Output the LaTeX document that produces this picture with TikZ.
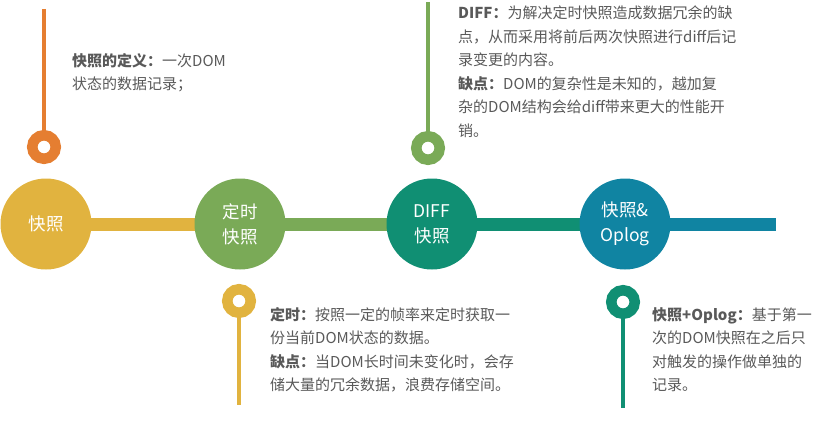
\documentclass[tikz,border=0pt]{standalone}
\usepackage{fontspec}
\setmainfont{Noto Sans CJK SC}
\usetikzlibrary{backgrounds}
\definecolor{snapyellow}{HTML}{E1B33F}
\definecolor{snapgreen}{HTML}{7AAA57}
\definecolor{snapteal}{HTML}{108F73}
\definecolor{snapblue}{HTML}{1084A2}
\definecolor{snaporange}{HTML}{E57E31}
\definecolor{notegray}{HTML}{595959}
\begin{document}
\begin{tikzpicture}[x=1pt, y=-1pt,
    stage/.style={circle, fill=#1, minimum size=91pt, inner sep=0pt, text=white,
        align=center, font=\fontsize{17.5}{25}\selectfont},
    bar/.style={draw=#1, line width=13pt},
    ring/.style={circle, draw=#1, line width=10.5pt, fill=white, minimum size=23.5pt, inner sep=0pt},
    note/.style={anchor=north west, inner sep=0pt, align=left, text=notegray,
        font=\fontsize{15}{23.5}\selectfont}]
    \useasboundingbox (0,0) rectangle (819,425);
    % Timeline stages
    \node[stage=snapyellow] (s1) at (46,224) {快照};
    \node[stage=snapgreen] (s2) at (240,224) {定时\\快照};
    \node[stage=snapteal] (s3) at (432,224) {DIFF\\快照};
    \node[stage=snapblue] (s4) at (625,224) {快照\&\\Oplog};
    \coordinate (tail) at (776,224);
    \begin{scope}[on background layer]
        \draw[bar=snapyellow] (s1.center) -- (s2.center);
        \draw[bar=snapgreen] (s2.center) -- (s3.center);
        \draw[bar=snapteal] (s3.center) -- (s4.center);
        \draw[bar=snapblue] (s4.center) -- (tail);
    \end{scope}
    % Pins above the line
    \coordinate (t1) at (44,9);
    \node[ring=snaporange] (p1) at (44,147) {};
    \draw[snaporange, line width=3.5pt] (t1) -- (p1.north);
    \coordinate (t3) at (428,2);
    \node[ring=snapgreen] (p3) at (428,148) {};
    \draw[snapgreen, line width=3.5pt] (t3) -- (p3.north);
    % Pins below the line
    \node[ring=snapyellow] (p2) at (239,301) {};
    \coordinate (b2) at (239,405);
    \draw[snapyellow, line width=3.5pt] (p2.south) -- (b2);
    \node[ring=snapteal] (p4) at (623,302) {};
    \coordinate (b4) at (623,408);
    \draw[snapteal, line width=3.5pt] (p4.south) -- (b4);
    % Notes
    \node[note] (n1) at (72,53) {\textbf{快照的定义：}一次DOM\\状态的数据记录；};
    \node[note] (n3) at (458,6) {\textbf{DIFF：}为解决定时快照造成数据冗余的缺\\
        点，从而采用将前后两次快照进行diff后记\\录变更的内容。\\
        \textbf{缺点：}DOM的复杂性是未知的，越加复\\
        杂的DOM结构会给diff带来更大的性能开\\销。};
    \node[note] (n2) at (270,307) {\textbf{定时：}按照一定的帧率来定时获取一\\
        份当前DOM状态的数据。\\
        \textbf{缺点：}当DOM长时间未变化时，会存\\
        储大量的冗余数据，浪费存储空间。};
    \node[note] (n4) at (652,307) {\textbf{快照+Oplog：}基于第一\\
        次的DOM快照在之后只\\对触发的操作做单独的\\记录。};
\end{tikzpicture}
\end{document}
